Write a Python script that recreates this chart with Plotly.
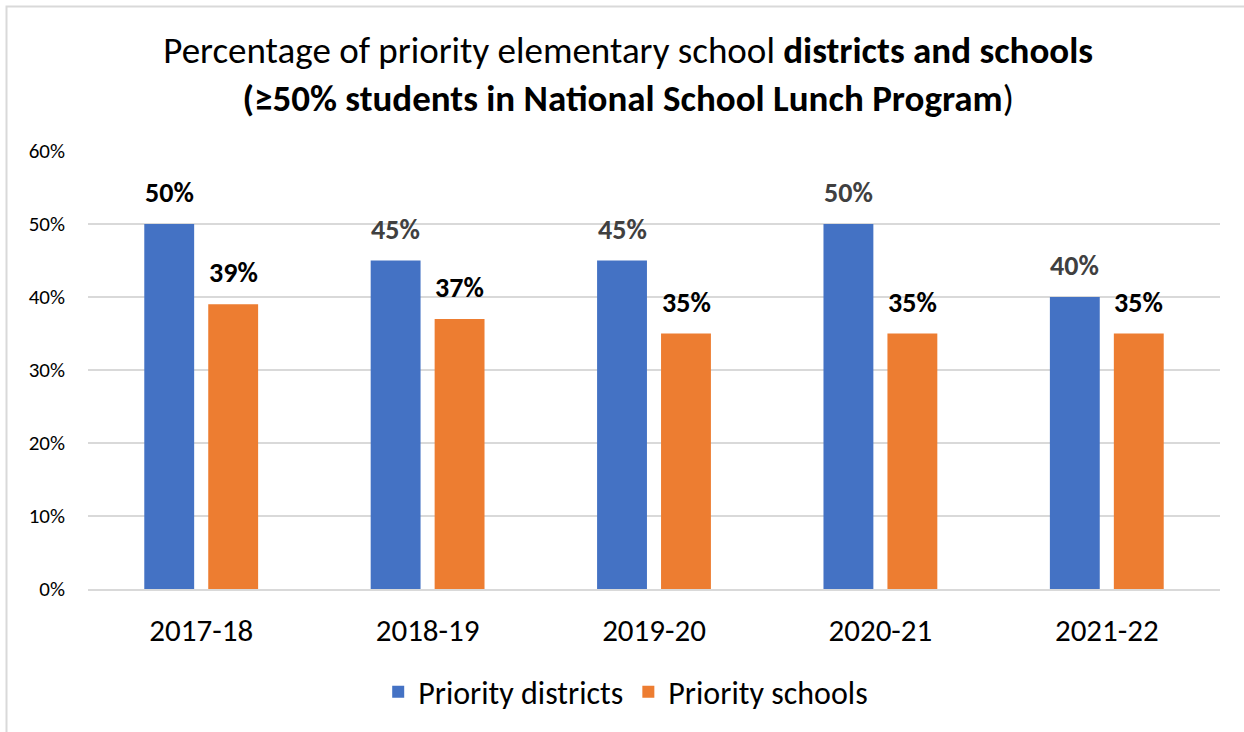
import plotly.graph_objects as go

years = ["2017-18", "2018-19", "2019-20", "2020-21", "2021-22"]
districts = [50, 45, 45, 50, 40]
schools = [39, 37, 35, 35, 35]
district_label_colors = ["#000000", "#404040", "#404040", "#404040", "#404040"]
school_label_colors = ["#000000"] * 5
y_ticks = [0, 10, 20, 30, 40, 50, 60]
y_tick_labels = [f"{v}%" for v in y_ticks]

FONT = "Carlito, Calibri, Lato, sans-serif"
BLUE = "#4472C4"
ORANGE = "#ED7D31"

fig = go.Figure()
fig.add_trace(go.Bar(x=years, y=districts, name="Priority districts",
                     marker=dict(color=BLUE, line=dict(width=0))))
fig.add_trace(go.Bar(x=years, y=schools, name="Priority schools",
                     marker=dict(color=ORANGE, line=dict(width=0))))

annotations = []
for i, yr in enumerate(years):
    annotations.append(dict(x=yr, y=districts[i], xref="x", yref="y",
                            text=f"<b>{districts[i]}%</b>", showarrow=False,
                            xshift=-32, yshift=12, yanchor="bottom",
                            font=dict(family=FONT, size=28, color=district_label_colors[i])))
    annotations.append(dict(x=yr, y=schools[i], xref="x", yref="y",
                            text=f"<b>{schools[i]}%</b>", showarrow=False,
                            xshift=32, yshift=12, yanchor="bottom",
                            font=dict(family=FONT, size=28, color=school_label_colors[i])))

fig.update_layout(
    width=1244, height=732,
    margin=dict(l=88, r=24, t=151, b=143),
    paper_bgcolor="white", plot_bgcolor="white",
    barmode="group", bargap=0.435, bargroupgap=0.22,
    font=dict(family=FONT, color="#000000"),
    title=dict(
        text="Percentage of priority elementary school <b>districts and schools</b><br>"
             "<b>(≥50% students in National School Lunch Program</b>)",
        x=0.505, xanchor="center", y=0.914, yanchor="top",
        font=dict(family=FONT, size=37, color="#000000"),
    ),
    xaxis=dict(showline=True, linecolor="#D9D9D9", linewidth=1.5, ticks="",
               tickfont=dict(family=FONT, size=31, color="#000000"), ticklabelstandoff=13),
    yaxis=dict(range=[0, 60], tickvals=y_ticks, ticktext=y_tick_labels,
               showgrid=True, gridcolor="#D9D9D9", gridwidth=1.5, zeroline=False,
               showline=False, ticks="", ticklabelstandoff=22,
               tickfont=dict(family=FONT, size=21, color="#000000")),
    legend=dict(orientation="h", x=0.475, xanchor="center", y=-0.235, yanchor="middle",
                font=dict(family=FONT, size=32, color="#000000"), itemwidth=30,
                traceorder="normal"),
    annotations=annotations,
    shapes=[dict(type="rect", xref="paper", yref="paper",
                 x0=(6.5 - 88) / 1132, x1=(1300 - 88) / 1132,
                 y0=(589 - 800) / 438, y1=(589 - 6.5) / 438,
                 line=dict(color="#D9D9D9", width=2), fillcolor="rgba(0,0,0,0)", layer="below")],
)

fig.write_html("out.html", config={"displayModeBar": False},
               post_script="document.body.style.margin='0px';")
